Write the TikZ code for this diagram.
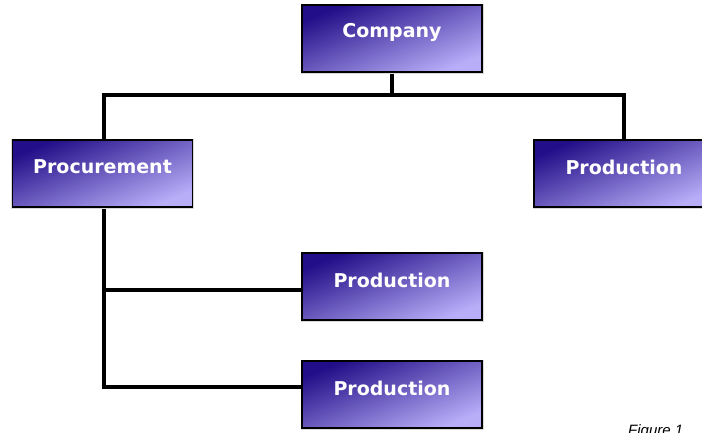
\documentclass[tikz,border=0pt]{standalone}
\usepackage{fontspec}
\setmainfont{DejaVu Sans}
\setsansfont{Liberation Sans}
\definecolor{boxdark}{RGB}{34,14,136}
\definecolor{boxlight}{RGB}{184,174,248}
\pgfdeclarelayer{bg}
\pgfsetlayers{bg,main}
\tikzset{
  orgbox/.style={draw=black, line width=1.3pt, minimum width=180pt, minimum height=67pt,
    inner sep=0pt, top color=boxdark, bottom color=boxlight, shading angle=22},
  boxtext/.style={text=white, font=\fontsize{19}{22}\selectfont\bfseries, inner sep=0pt},
  conn/.style={line width=4.5pt, line cap=rect}
}
\begin{document}
\begin{tikzpicture}[x=1pt,y=-1pt]
\useasboundingbox (0,0) rectangle (702,432);
\coordinate (bl) at (104,95);
\coordinate (br) at (624,95);
\coordinate (bc) at (392,95);
\coordinate (m1) at (104,290);
\coordinate (m2) at (104,387);
\foreach \n/\x/\y/\t in {comp/392/38.5/Company, proc/102.5/173.5/Procurement, prodr/624/173.5/Production, prodm/392/286.5/Production, prodb/392/394.5/Production}{
  \fill[black!15] (\x-91.5,\y-35) rectangle (\x+91.5,\y+35);
  \node[orgbox] (\n) at (\x,\y) {};
  \node[boxtext] (\n t) at (\x,\y-6.5) {\t};
}
\begin{pgfonlayer}{bg}
\fill[white] (0,0) rectangle (702,432);
\draw[conn] (bl) -- (br);
\draw[conn] (comp.south) -- (bc);
\draw[conn] (bl) -- (proc.north -| bl);
\draw[conn] (br) -- (prodr.north);
\draw[conn] (proc.south -| bl) -- (m2);
\draw[conn] (m1) -- (prodm.west |- m1);
\draw[conn] (m2) -- (prodb.west |- m2);
\end{pgfonlayer}
\node[anchor=north west, font=\sffamily\fontsize{15}{18}\selectfont\itshape, inner sep=0pt] (fig) at (628,424) {Figure 1};
\end{tikzpicture}
\end{document}
